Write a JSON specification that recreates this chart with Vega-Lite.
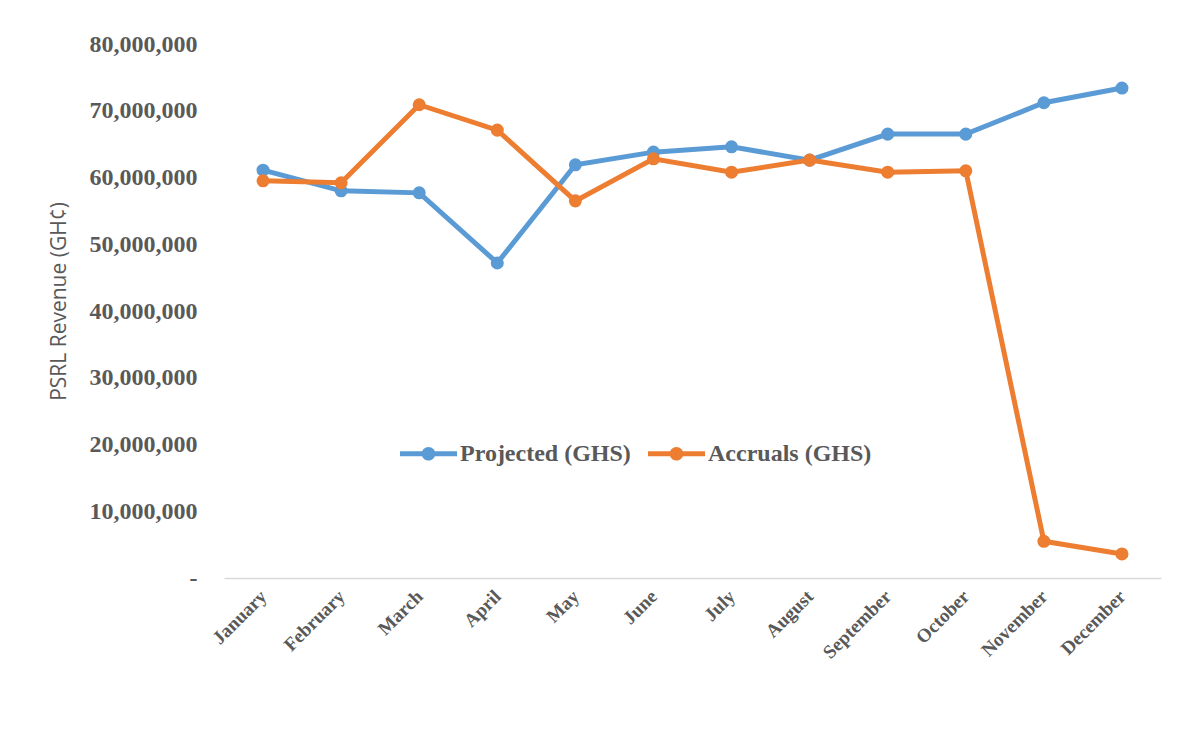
{
  "$schema": "https://vega.github.io/schema/vega-lite/v6.json",
  "autosize": {"type": "none"},
  "width": 937,
  "height": 534,
  "padding": {"left": 224, "top": 44, "right": 17, "bottom": 153},
  "background": "white",
  "config": {"view": {"stroke": null}},
  "data": {"values": [
    {"month": "January", "series": "Projected (GHS)", "value": 61100000},
    {"month": "February", "series": "Projected (GHS)", "value": 58000000},
    {"month": "March", "series": "Projected (GHS)", "value": 57700000},
    {"month": "April", "series": "Projected (GHS)", "value": 47200000},
    {"month": "May", "series": "Projected (GHS)", "value": 61900000},
    {"month": "June", "series": "Projected (GHS)", "value": 63800000},
    {"month": "July", "series": "Projected (GHS)", "value": 64600000},
    {"month": "August", "series": "Projected (GHS)", "value": 62600000},
    {"month": "September", "series": "Projected (GHS)", "value": 66500000},
    {"month": "October", "series": "Projected (GHS)", "value": 66500000},
    {"month": "November", "series": "Projected (GHS)", "value": 71200000},
    {"month": "December", "series": "Projected (GHS)", "value": 73400000},
    {"month": "January", "series": "Accruals (GHS)", "value": 59500000},
    {"month": "February", "series": "Accruals (GHS)", "value": 59200000},
    {"month": "March", "series": "Accruals (GHS)", "value": 70900000},
    {"month": "April", "series": "Accruals (GHS)", "value": 67100000},
    {"month": "May", "series": "Accruals (GHS)", "value": 56500000},
    {"month": "June", "series": "Accruals (GHS)", "value": 62800000},
    {"month": "July", "series": "Accruals (GHS)", "value": 60800000},
    {"month": "August", "series": "Accruals (GHS)", "value": 62600000},
    {"month": "September", "series": "Accruals (GHS)", "value": 60800000},
    {"month": "October", "series": "Accruals (GHS)", "value": 61000000},
    {"month": "November", "series": "Accruals (GHS)", "value": 5500000},
    {"month": "December", "series": "Accruals (GHS)", "value": 3600000}
  ]},
  "encoding": {
    "x": {
      "field": "month", "type": "ordinal", "sort": null,
      "scale": {"type": "point", "padding": 0.5},
      "axis": {
        "title": null, "labelAngle": -45, "labelAlign": "right", "labelBaseline": "middle",
        "labelFont": "Liberation Serif", "labelFontWeight": "bold", "labelFontSize": 19,
        "labelColor": "#595959", "labelPadding": 15, "ticks": false,
        "domainColor": "#d9d9d9", "domainWidth": 1.5, "grid": false
      }
    },
    "y": {
      "field": "value", "type": "quantitative",
      "scale": {"domain": [0, 80000000], "nice": false},
      "axis": {
        "title": "PSRL Revenue (GH¢)", "values": [0, 10000000, 20000000, 30000000, 40000000, 50000000, 60000000, 70000000, 80000000],
        "labelExpr": "datum.value == 0 ? '-' : format(datum.value, ',')",
        "labelFont": "Liberation Serif", "labelFontWeight": "bold", "labelFontSize": 24,
        "labelColor": "#595959", "labelPadding": 27, "ticks": false, "domain": false, "grid": false,
        "titleFont": "Open Sans", "titleFontWeight": "normal", "titleFontSize": 21, "titleColor": "#595959",
        "titleX": -165, "titleY": 257, "titleAngle": -90, "titleAlign": "center", "titleBaseline": "middle"
      }
    },
    "color": {
      "field": "series", "type": "nominal",
      "sort": ["Projected (GHS)", "Accruals (GHS)"],
      "scale": {"domain": ["Projected (GHS)", "Accruals (GHS)"], "range": ["#5B9BD5", "#ED7D31"]},
      "legend": {
        "title": null, "orient": "none", "direction": "horizontal",
        "legendX": 190, "legendY": 395,
        "labelFont": "Liberation Serif", "labelFontWeight": "bold", "labelFontSize": 24, "labelColor": "#595959",
        "labelLimit": 400,
        "symbolType": "M-2,-0.18L2,-0.18L2,0.18L-2,0.18Z M-0.48,0A0.48,0.48 0 1,1 0.48,0A0.48,0.48 0 1,1 -0.48,0Z",
        "symbolSize": 812, "symbolStrokeWidth": 0, "symbolOpacity": 1,
        "labelOffset": 17, "columnPadding": 17
      }
    }
  },
  "layer": [
    {"mark": {"type": "line", "strokeWidth": 5}},
    {"mark": {"type": "point", "filled": true, "size": 170, "opacity": 1}}
  ]
}
